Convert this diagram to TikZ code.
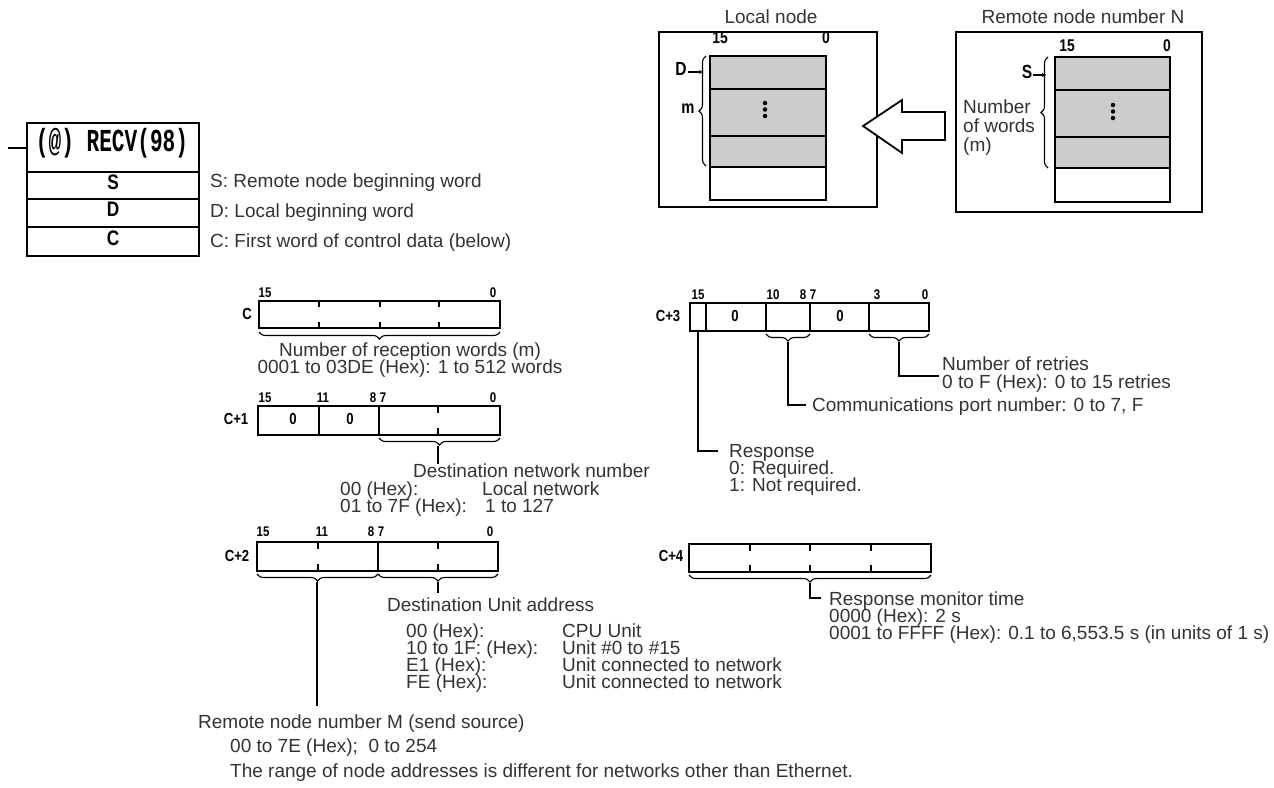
\documentclass[tikz,border=0pt]{standalone}
\usepackage{fontspec}
\setmainfont{Liberation Sans}
\setmonofont{Liberation Mono}
\usetikzlibrary{decorations.pathreplacing,arrows.meta}
\newcommand{\cnd}[1]{\scalebox{0.82}[1]{#1}}
\begin{document}
\begin{tikzpicture}[x=1pt,y=-1pt,
  txt/.style={inner sep=0pt, text height=0.72em, text depth=0pt, font=\fontsize{19}{19}\selectfont, text=black!80, anchor=west},
  ctxt/.style={txt, anchor=center},
  bitl/.style={inner sep=0pt, text height=0.72em, text depth=0pt, font=\fontsize{14}{14}\selectfont\bfseries},
  regl/.style={inner sep=0pt, text height=0.72em, text depth=0pt, font=\fontsize{16}{16}\selectfont\bfseries},
  bigl/.style={inner sep=0pt, text height=0.72em, text depth=0pt, font=\fontsize{18}{18}\selectfont\bfseries},
  opl/.style={inner sep=0pt, text height=0.72em, text depth=0pt, font=\fontsize{21}{21}\selectfont\bfseries},
  regbox/.style={draw, line width=1.6pt},
  div/.style={line width=1.3pt},
  brcD/.style={line width=1.1pt, decorate, decoration={brace, mirror, amplitude=7pt}},
  brcL/.style={line width=1.1pt, decorate, decoration={brace, amplitude=7pt}},
  conn/.style={line width=1.3pt},
  arr/.style={line width=1.1pt, -{Latex[length=5pt,width=4pt]}},
  dot/.style={fill=black, circle, inner sep=0pt, minimum size=4.5pt},
]
\useasboundingbox (0,0) rectangle (1274,787);

% ---------------- RECV ladder block ----------------
\draw[regbox] (27,123) rectangle (199,256);
\draw[div] (27,172) -- (199,172);
\draw[div] (27,199) -- (199,199);
\draw[div] (27,227) -- (199,227);
\coordinate (stubL) at (8,148);
\coordinate (stubR) at (27,148);
\draw[conn] (stubL) -- (stubR);
\node[inner sep=0pt, text height=0.62em, text depth=0pt, font=\fontsize{32}{32}\selectfont\ttfamily\bfseries] (recv) at (112,148) {\scalebox{0.66}[1]{(@) RECV(98)}};
\node[opl] (opS) at (113,186) {\cnd{S}};
\node[opl] (opD) at (113,213) {\cnd{D}};
\node[opl] (opC) at (113,242) {\cnd{C}};
\node[txt] (tS) at (210,184) {S: Remote node beginning word};
\node[txt] (tD) at (210,214) {D: Local beginning word};
\node[txt] (tC) at (210,244) {C: First word of control data (below)};

% ---------------- Local node ----------------
\node[ctxt] (locT) at (771,20) {Local node};
\draw[line width=1.8pt] (659,32) rectangle (877,207);
\fill[black!20] (710,56) rectangle (826,167);
\draw[div] (710,56) rectangle (826,200);
\draw[line width=1.1pt] (710,89) -- (826,89);
\draw[line width=1.1pt] (710,136) -- (826,136);
\draw[line width=1.1pt] (710,167) -- (826,167);
\node[bigl, font=\fontsize{17}{17}\selectfont\bfseries] (l15) at (720,40) {\cnd{15}};
\node[bigl, font=\fontsize{17}{17}\selectfont\bfseries] (l0) at (826,40) {\cnd{0}};
\node[dot] at (765,103) {};
\node[dot] at (765,109.5) {};
\node[dot] at (765,116) {};
\draw[brcL] (706,166) -- (706,56);
\node[bigl, font=\fontsize{19}{19}\selectfont\bfseries] (lD) at (681,72) {\cnd{D}};
\coordinate (lDt) at (704,72);
\draw[arr] (lD.east) ++(1,0) -- (lDt);
\node[bigl] (lm) at (688,110) {\cnd{m}};

% ---------------- Remote node ----------------
\node[ctxt] (remT) at (1083,20) {Remote node number N};
\draw[line width=1.8pt] (956,32) rectangle (1202,212);
\fill[black!20] (1055,57) rectangle (1170,168);
\draw[div] (1055,57) rectangle (1170,202);
\draw[line width=1.1pt] (1055,90) -- (1170,90);
\draw[line width=1.1pt] (1055,137) -- (1170,137);
\draw[line width=1.1pt] (1055,168) -- (1170,168);
\node[bigl, font=\fontsize{17}{17}\selectfont\bfseries] (r15) at (1067,48) {\cnd{15}};
\node[bigl, font=\fontsize{17}{17}\selectfont\bfseries] (r0) at (1167,48) {\cnd{0}};
\node[dot] at (1113,105) {};
\node[dot] at (1113,111.5) {};
\node[dot] at (1113,118) {};
\draw[brcL] (1048,168) -- (1048,57);
\node[bigl, font=\fontsize{19}{19}\selectfont\bfseries] (rS) at (1027,75) {\cnd{S}};
\coordinate (rSt) at (1047,75);
\draw[arr] (rS.east) ++(1,0) -- (rSt);
\node[txt] (nw1) at (963,110) {Number};
\node[txt] (nw2) at (963,129) {of words};
\node[txt] (nw3) at (963,148) {(m)};

% big transfer arrow
\draw[line width=1.8pt, fill=white] (863,126) -- (902,100) -- (902,112) -- (945,112) -- (945,140) -- (902,140) -- (902,153) -- cycle;

% ---------------- C ----------------
\node[regl] (lC) at (247,316) {\cnd{C}};
\draw[regbox] (259,301) rectangle (500,328);
\foreach \x in {319,380,439} {\draw[div] (\x,301) -- (\x,307); \draw[div] (\x,322) -- (\x,328);}
\node[bitl] at (265,294) {\cnd{15}};
\node[bitl] at (493,294) {\cnd{0}};
\draw[brcD] (259,332) -- (500,332);
\node[ctxt] (cA) at (410,353) {Number of reception words (m)};
\node[ctxt] (cB) at (410,370) {0001 to 03DE (Hex): 1 to 512 words};

% ---------------- C+1 ----------------
\node[regl] (lC1) at (236,421) {\cnd{C+1}};
\draw[regbox] (258,406) rectangle (500,435);
\draw[div] (319,406) -- (319,435);
\draw[div] (379,406) -- (379,435);
\draw[div] (438,406) -- (438,413); \draw[div] (438,428) -- (438,435);
\node[regl] at (293,421) {\cnd{0}};
\node[regl] at (350,421) {\cnd{0}};
\node[bitl] at (265,399) {\cnd{15}};
\node[bitl] at (323,399) {\cnd{11}};
\node[bitl] at (373,399) {\cnd{8}};
\node[bitl] at (383,399) {\cnd{7}};
\node[bitl] at (493,399) {\cnd{0}};
\draw[brcD] (379,438) -- (500,438);
\coordinate (c1tip) at (438,446);
\node[txt] (dn) at (413,474) {Destination network number};
\coordinate (c1end) at (438,464);
\draw[conn] (c1tip) -- (c1end);
\node[txt] at (340,492) {00 (Hex):};
\node[txt] at (482,492) {Local network};
\node[txt] at (340,509) {01 to 7F (Hex):};
\node[txt] at (485,509) {1 to 127};

% ---------------- C+2 ----------------
\node[regl] (lC2) at (237,558) {\cnd{C+2}};
\draw[regbox] (257,542) rectangle (498,571);
\draw[div] (378,542) -- (378,571);
\foreach \x in {318,438} {\draw[div] (\x,542) -- (\x,549); \draw[div] (\x,564) -- (\x,571);}
\node[bitl] at (263,533) {\cnd{15}};
\node[bitl] at (322,533) {\cnd{11}};
\node[bitl] at (371,533) {\cnd{8}};
\node[bitl] at (381,533) {\cnd{7}};
\node[bitl] at (490,533) {\cnd{0}};
\draw[brcD] (257,574) -- (378,574);
\draw[brcD] (378,574) -- (498,574);
\coordinate (c2tipR) at (438,582);
\coordinate (c2endR) at (438,593);
\draw[conn] (c2tipR) -- (c2endR);
\coordinate (c2tipL) at (317,582);
\coordinate (c2endL) at (317,706);
\draw[conn] (c2tipL) -- (c2endL);
\node[txt] (du) at (387,608) {Destination Unit address};
\node[txt] at (406,634) {00 (Hex):};
\node[txt] at (562,634) {CPU Unit};
\node[txt] at (406,651) {10 to 1F: (Hex):};
\node[txt] at (562,651) {Unit \#0 to \#15};
\node[txt] at (406,668) {E1 (Hex):};
\node[txt] at (562,668) {Unit connected to network};
\node[txt] at (406,685) {FE (Hex):};
\node[txt] at (562,685) {Unit connected to network};
\node[txt] (rm) at (198,725) {Remote node number M (send source)};
\node[txt] at (230,749) {00 to 7E (Hex);\ \ 0 to 254};
\node[txt] at (230,774) {The range of node addresses is different for networks other than Ethernet.};

% ---------------- C+3 ----------------
\node[regl] (lC3) at (668,318) {\cnd{C+3}};
\draw[regbox] (690,303) rectangle (929,331);
\foreach \x in {706,766,810,869} {\draw[div] (\x,303) -- (\x,331);}
\node[regl] at (735,318) {\cnd{0}};
\node[regl] at (840,318) {\cnd{0}};
\node[bitl] at (698,296) {\cnd{15}};
\node[bitl] at (773,296) {\cnd{10}};
\node[bitl] at (803,296) {\cnd{8}};
\node[bitl] at (813,296) {\cnd{7}};
\node[bitl] at (877,296) {\cnd{3}};
\node[bitl] at (925,296) {\cnd{0}};
\draw[brcD] (869,334) -- (929,334);
\draw[brcD] (766,334) -- (810,334);
\node[txt] (nr1) at (942,367) {Number of retries};
\node[txt] (nr2) at (942,385) {0 to F (Hex): 0 to 15 retries};
\coordinate (c3tipR) at (899,342);
\coordinate (c3cR) at (899,376);
\coordinate (c3eR) at (939,376);
\draw[conn] (c3tipR) -- (c3cR) -- (c3eR);
\node[txt] (cp) at (812,408) {Communications port number: 0 to 7, F};
\coordinate (c3tipM) at (788,342);
\coordinate (c3cM) at (788,405);
\coordinate (c3eM) at (806,405);
\draw[conn] (c3tipM) -- (c3cM) -- (c3eM);
\coordinate (c3tipL) at (698,331);
\coordinate (c3cL) at (698,451);
\coordinate (c3eL) at (718,451);
\draw[conn] (c3tipL) -- (c3cL) -- (c3eL);
\node[txt] (rs1) at (729,454) {Response};
\node[txt] at (729,471) {0: Required.};
\node[txt] at (729,488) {1: Not required.};

% ---------------- C+4 ----------------
\node[regl] (lC4) at (671,558) {\cnd{C+4}};
\draw[regbox] (689,544) rectangle (931,572);
\foreach \x in {750,810,871} {\draw[div] (\x,544) -- (\x,551); \draw[div] (\x,565) -- (\x,572);}
\draw[brcD] (689,575) -- (931,575);
\coordinate (c4tip) at (810,583);
\coordinate (c4c) at (810,598);
\coordinate (c4e) at (821,598);
\draw[conn] (c4tip) -- (c4c) -- (c4e);
\node[txt] (rmt) at (829,602) {Response monitor time};
\node[txt] at (829,619) {0000 (Hex): 2 s};
\node[txt] at (829,636) {0001 to FFFF (Hex): 0.1 to 6,553.5 s (in units of 1 s)};
\end{tikzpicture}
\end{document}
